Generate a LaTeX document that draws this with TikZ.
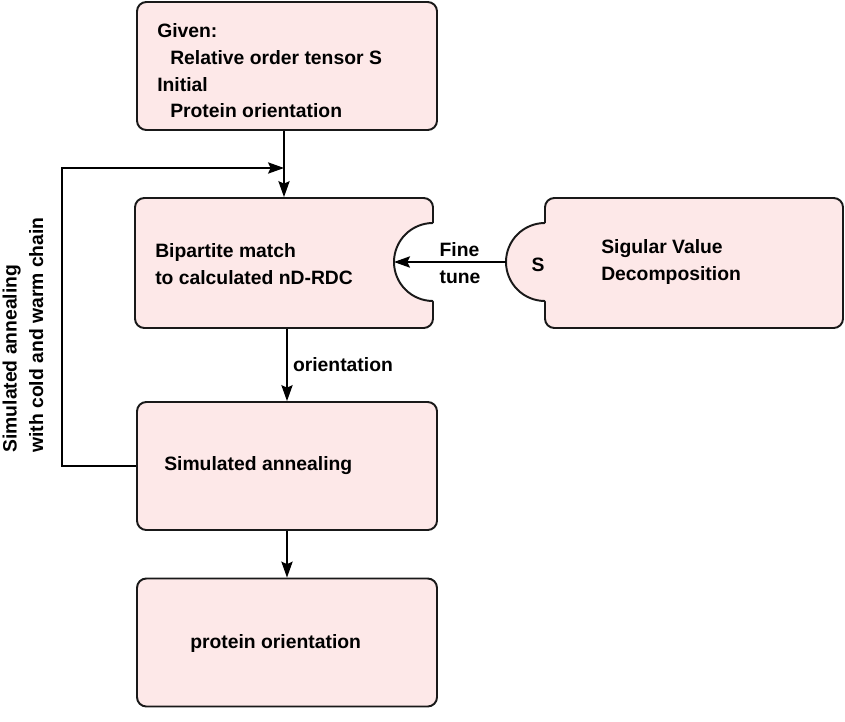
\documentclass[tikz,border=0pt]{standalone}
\usepackage{fontspec}
\setmainfont{Liberation Sans}
\usetikzlibrary{arrows.meta,calc}
\definecolor{boxfill}{RGB}{253,232,232}
\definecolor{boxline}{RGB}{25,25,25}
\begin{document}
\begin{tikzpicture}[x=0.75pt,y=-0.75pt,
  box/.style={draw=boxline, line width=1.45pt, fill=boxfill, rounded corners=7pt,
    minimum width=225pt, minimum height=96pt, inner sep=0pt},
  txt/.style={font=\fontsize{14.5pt}{20pt}\selectfont\bfseries, align=left, inner sep=0pt},
  conn/.style={draw=black, line width=1pt, -{Stealth[length=12pt,width=8.5pt,inset=2pt]}},
  edge/.style={draw=boxline, line width=1.45pt}
]
\useasboundingbox[fill=white] (0,0) rectangle (845,721);

% boxes
\node[box] (G) at (287,66) {};
\node[box, minimum width=223.5pt, minimum height=97.5pt] (B) at (284,263) {};
\node[box, minimum width=223.5pt, minimum height=97.5pt] (R) at (694,263) {};
\node[box] (SA) at (287,466) {};
\node[box] (P) at (287,642.5) {};

% notch on B
\fill[white] (436,223) -- (433,223) arc[start angle=90,end angle=270,radius=29.25pt] -- (436,301) -- cycle;
\draw[edge] (433,223) arc[start angle=90,end angle=270,radius=29.25pt];
% bump on R
\fill[boxfill] (548,223) -- (545,223) arc[start angle=90,end angle=270,radius=29.25pt] -- (548,301) -- cycle;
\draw[edge] (545,223) arc[start angle=90,end angle=270,radius=29.25pt];

\coordinate (notchtip) at (394,262);
\coordinate (bumptip) at (506,262);
\coordinate (loopy) at (0,168);
\coordinate (loopcorner) at (62,168);

% texts
\node[txt, anchor=west] (Gt) at (157,71) {Given:\\\hspace*{9.75pt}Relative order tensor S\\Initial\\\hspace*{9.75pt}Protein orientation};
\node[txt, anchor=west] (Bt) at (155,264) {Bipartite match\\to calculated nD-RDC};
\node[txt, anchor=west] (Rt) at (601,262) {Sigular Value\\Decomposition};
\node[txt] (S) at (538,265) {S};
\node[txt, anchor=west] (SAt) at (164,466) {Simulated annealing};
\node[txt, anchor=west] (Pt) at (190,643) {protein orientation};
\node[txt, rotate=90] (loopt) at (23,335) {Simulated annealing\\with cold and warm chain};

% connectors
\draw[conn] (B.north |- G.south) -- (B.north);
\draw[conn] (SA.west) -- (SA.west -| loopcorner) -- (loopcorner) -- (B.north |- loopy);
\draw[conn] (bumptip) -- node[txt, pos=0.41, yshift=-1pt] (ft) {Fine\\tune} (notchtip);
\draw[conn] (SA.north |- B.south) -- node[txt, right=4pt] (ot) {orientation} (SA.north);
\draw[conn] (SA.south) -- (P.north);
\end{tikzpicture}
\end{document}
